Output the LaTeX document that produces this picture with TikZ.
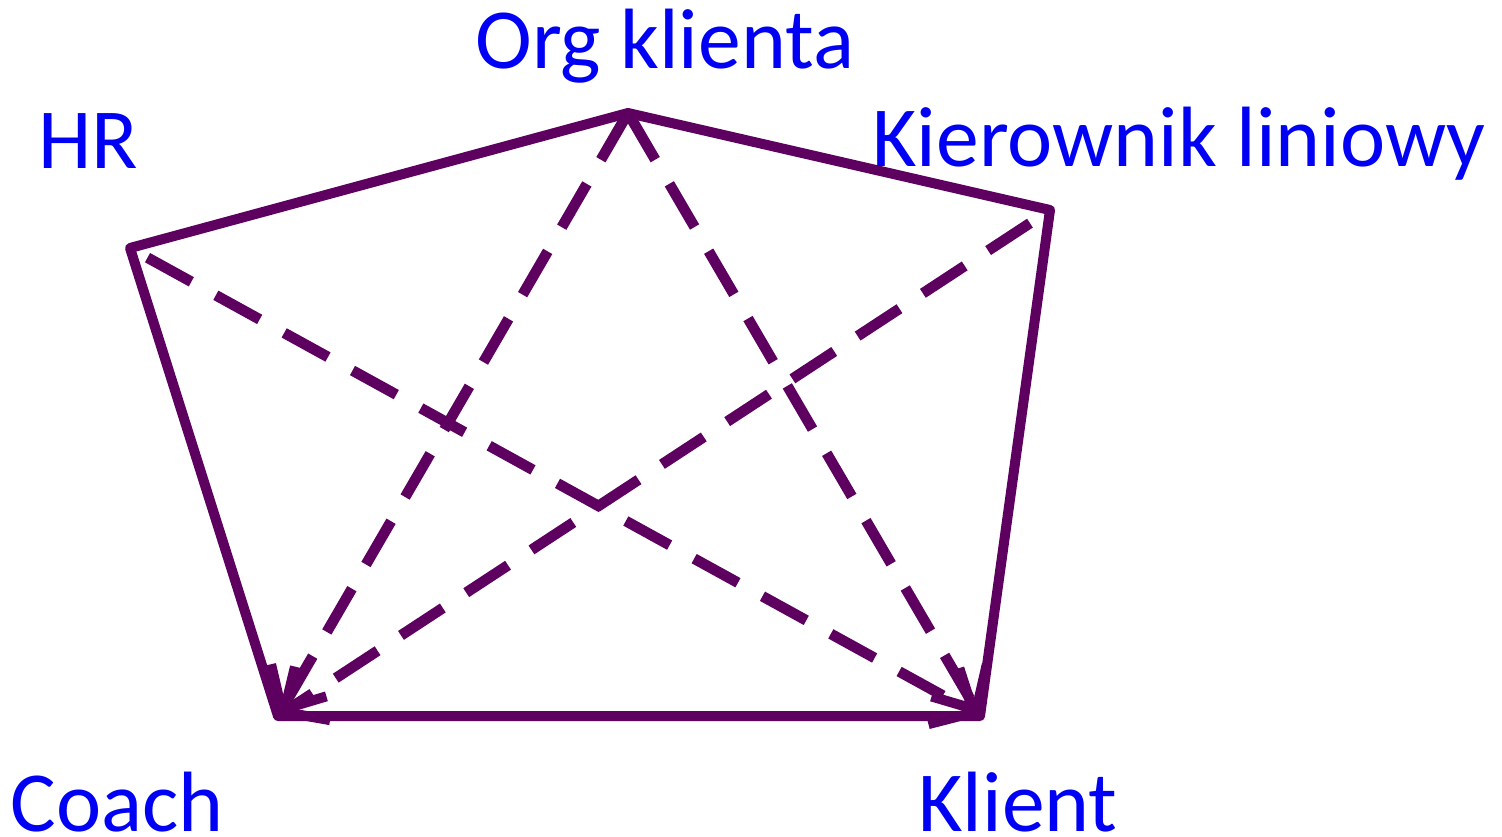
\documentclass[tikz,border=0pt]{standalone}
\usepackage{fontspec}
\setmainfont{Carlito}
\usetikzlibrary{arrows.meta}
\definecolor{edgecol}{RGB}{94,0,96}
\definecolor{labcol}{RGB}{0,0,245}
\begin{document}
\begin{tikzpicture}[x=0.5pt,y=-0.5pt,
  edge/.style={draw=edgecol,line width=5pt,line join=round,line cap=round},
  dline/.style={draw=edgecol,line width=5.3pt,line cap=butt,dash pattern=on 25pt off 14pt},
  tip/.style={-{Straight Barb[length=17pt,width=32pt,line width=5pt]}},
  lab/.style={text=labcol,font=\fontsize{42.8pt}{50pt}\selectfont,inner sep=0pt,anchor=base west}]
\useasboundingbox (0,0) rectangle (1502,836);
\coordinate (hr) at (130,248);
\coordinate (org) at (628,113);
\coordinate (kier) at (1050,210);
\coordinate (kl) at (980,716);
\coordinate (co) at (278,716);
\draw[edge] (hr) -- (org) -- (kier) -- (kl) -- (co) -- cycle;
\draw[dline,tip,shorten <=10pt] (hr) -- (kl);
\draw[dline,tip,shorten <=2pt] (org) -- (co);
\draw[dline,tip,shorten <=2pt] (org) -- (kl);
\draw[dline,tip,shorten <=12pt] (kier) -- (co);
\node[lab] (torg) at (475,68) {Org klienta};
\node[lab] (thr) at (38,168) {HR};
\node[lab] (tkier) at (872,166) {Kierownik liniowy};
\node[lab] (tco) at (10,831) {Coach};
\node[lab] (tkl) at (918,831) {Klient};
\end{tikzpicture}
\end{document}
